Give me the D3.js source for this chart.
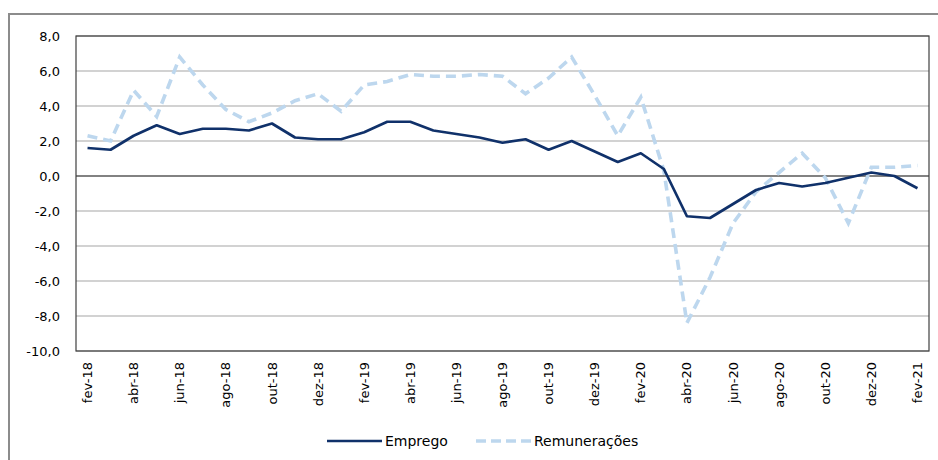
<!DOCTYPE html>
<html>
<head>
<meta charset="utf-8">
<script src="https://cdn.jsdelivr.net/npm/d3@7"></script>
<style>
body{margin:0;background:#fff;}
text{font-family:"DejaVu Sans",Verdana,sans-serif;fill:#000;}
</style>
</head>
<body>
<div id="chart"></div>
<script>
// meses fev-18 .. fev-21
var months = ["fev-18","mar-18","abr-18","mai-18","jun-18","jul-18","ago-18","set-18","out-18","nov-18","dez-18",
  "jan-19","fev-19","mar-19","abr-19","mai-19","jun-19","jul-19","ago-19","set-19","out-19","nov-19","dez-19",
  "jan-20","fev-20","mar-20","abr-20","mai-20","jun-20","jul-20","ago-20","set-20","out-20","nov-20","dez-20",
  "jan-21","fev-21"];

var emprego = [1.6,1.5,2.3,2.9,2.4,2.7,2.7,2.6,3.0,2.2,2.1,
  2.1,2.5,3.1,3.1,2.6,2.4,2.2,1.9,2.1,1.5,2.0,1.4,
  0.8,1.3,0.4,-2.3,-2.4,-1.6,-0.8,-0.4,-0.6,-0.4,-0.1,0.2,
  0.0,-0.7];

var remuneracoes = [2.3,2.0,4.9,3.4,6.8,5.2,3.8,3.1,3.6,4.3,4.7,
  3.7,5.2,5.4,5.8,5.7,5.7,5.8,5.7,4.7,5.6,6.8,4.6,
  2.3,4.5,0.3,-8.4,-5.8,-2.7,-0.9,0.2,1.3,-0.1,-2.7,0.5,
  0.5,0.6];

var yTicks = [-10,-8,-6,-4,-2,0,2,4,6,8];

var W = 938, H = 460;
var margin = {left:76, right:9, top:36, bottom:109};

var svg = d3.select("#chart").append("svg")
  .attr("width", W).attr("height", H);

// moldura exterior
svg.append("rect")
  .attr("x", 9).attr("y", 14)
  .attr("width", W + 10).attr("height", H + 10)
  .attr("fill", "none").attr("stroke", "#8c8c8c").attr("stroke-width", 2);

var x = d3.scaleBand().domain(months).range([margin.left, W - margin.right]);
var y = d3.scaleLinear().domain([-10, 8]).range([H - margin.bottom, margin.top]);

// grelha
svg.selectAll("line.grid")
  .data(yTicks)
  .enter()
  .append("line")
  .attr("class", "grid")
  .attr("x1", margin.left).attr("x2", W - margin.right)
  .attr("y1", d => y(d)).attr("y2", d => y(d))
  .attr("stroke", d => d == 0 ? "#595959" : "#a6a6a6")
  .attr("stroke-width", d => d == 0 ? 1.3 : 1.1);

// caixa da area do grafico
svg.append("rect")
  .attr("x", margin.left).attr("y", margin.top)
  .attr("width", W - margin.right - margin.left)
  .attr("height", H - margin.bottom - margin.top)
  .attr("fill", "none").attr("stroke", "#404040").attr("stroke-width", 1.2);

// eixo y
var yAxis = d3.axisLeft(y).tickValues(yTicks).tickSize(0).tickPadding(16)
  .tickFormat(d => d3.format(".1f")(d).replace(".", ",").replace("−", "-"));
svg.append("g").attr("transform", "translate(" + margin.left + ",0)")
  .call(yAxis)
  .call(g => g.select(".domain").remove())
  .selectAll("text").style("font-size", "13px").attr("fill", "#000");

// eixo x
var xTicks = months.filter((m, i) => i % 2 == 0);
var xAxis = d3.axisBottom(x).tickValues(xTicks).tickSize(0).tickPadding(0);
svg.append("g").attr("transform", "translate(0," + (H - margin.bottom) + ")")
  .call(xAxis)
  .call(g => g.select(".domain").remove())
  .selectAll("text")
  .style("font-size", "13px").attr("fill", "#000")
  .attr("transform", "rotate(-90)")
  .attr("text-anchor", "end")
  .attr("x", -11).attr("y", 0).attr("dy", "0.35em");

var line = d3.line()
  .x((d, i) => x(months[i]) + x.bandwidth() / 2)
  .y(d => y(d));

svg.append("path").datum(remuneracoes)
  .attr("d", line).attr("fill", "none")
  .attr("stroke", "#bdd7ee").attr("stroke-width", 3.6)
  .attr("stroke-dasharray", "10,6");

svg.append("path").datum(emprego)
  .attr("d", line).attr("fill", "none")
  .attr("stroke", "#10316a").attr("stroke-width", 2.7)
  .attr("stroke-linejoin", "round");

// legenda
var legend = [
  {name:"Emprego", color:"#10316a", w:2.7, dash:null, x:327},
  {name:"Remunerações", color:"#bdd7ee", w:3.6, dash:"10,5", x:476}
];
var ly = 441;
legend.forEach(function(l){
  svg.append("line")
    .attr("x1", l.x).attr("x2", l.x + 55)
    .attr("y1", ly).attr("y2", ly)
    .attr("stroke", l.color).attr("stroke-width", l.w)
    .attr("stroke-dasharray", l.dash);
  svg.append("text")
    .attr("x", l.x + 58).attr("y", ly).attr("dy", "0.35em")
    .style("font-size", "14px")
    .text(l.name);
});
</script>
</body>
</html>
